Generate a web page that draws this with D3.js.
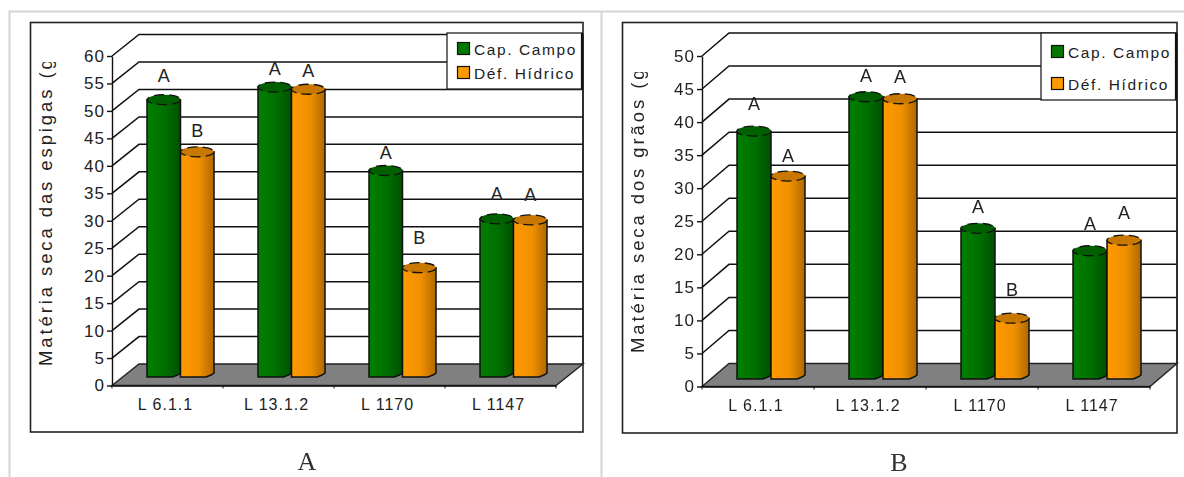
<!DOCTYPE html>
<html>
<head>
<meta charset="utf-8">
<script src="https://cdn.jsdelivr.net/npm/d3@7"></script>
<style>
  html, body { margin: 0; padding: 0; background: #fff; overflow: hidden; }
  svg { display: block; filter: blur(0.45px); font-family: "Liberation Sans", Arial, sans-serif; }
</style>
</head>
<body>
<svg id="chart" width="1184" height="477"></svg>
<script>
/* DATA */
const categories = ["L 6.1.1", "L 13.1.2", "L 1170", "L 1147"];
const seriesNames = ["Cap. Campo", "Déf. Hídrico"];

const espigasCampo = [50.5, 52.8, 37.6, 28.8];
const espigasDeficit = [41, 52.4, 19.9, 28.6];
const espigasLetters = [["A", "B"], ["A", "A"], ["A", "B"], ["A", "A"]];
// height of each letter, in axis units (they were placed by hand in the original)
const espigasLetterLevels = [[56.4, 46.4], [57.7, 57.3], [42.4, 27], [35, 34.7]];
const espigasTicks = [0, 5, 10, 15, 20, 25, 30, 35, 40, 45, 50, 55, 60];

const graosCampo = [37.5, 42.7, 22.8, 19.4];
const graosDeficit = [30.7, 42.4, 9.2, 21];
const graosLetters = [["A", "A"], ["A", "A"], ["A", "B"], ["A", "A"]];
const graosLetterLevels = [[42.8, 35], [47.1, 46.9], [27.3, 14.7], [24.7, 26.3]];
const graosTicks = [0, 5, 10, 15, 20, 25, 30, 35, 40, 45, 50];

const colors = ["#007800", "#ff9900"];
const topColors = ["#006000", "#c87800"];

const svg = d3.select("#chart");

// bar gradients
const defs = svg.append("defs");
[["grad0", "#007f00", "#006f00", "#005000"], ["grad1", "#ff9900", "#f09000", "#b06800"]].forEach(g => {
    const lg = defs.append("linearGradient").attr("id", g[0]);
    lg.append("stop").attr("offset", "0%").attr("stop-color", g[1]);
    lg.append("stop").attr("offset", "55%").attr("stop-color", g[2]);
    lg.append("stop").attr("offset", "100%").attr("stop-color", g[3]);
});

// page lines
svg.append("path")
    .attr("d", "M9.5,477V11.5H1184M601.5,11.5V477")
    .attr("fill", "none")
    .attr("stroke", "#d4d4d4")
    .attr("stroke-width", 2);

function drawPanel(cfg) {

    const g = svg.append("g");

    // frame
    g.append("rect")
        .attr("x", cfg.frame[0]).attr("y", cfg.frame[1])
        .attr("width", cfg.frame[2] - cfg.frame[0]).attr("height", cfg.frame[3] - cfg.frame[1])
        .attr("fill", "#fff").attr("stroke", "#222").attr("stroke-width", 1.6);

    /* SCALES */
    const yScale = d3.scaleLinear()
        .domain(d3.extent(cfg.ticks))
        .range([cfg.y0, cfg.yTop]);

    const xScale = d3.scaleBand()
        .domain(categories)
        .range([cfg.x0, cfg.x1]);

    const barScale = d3.scaleBand()
        .domain(seriesNames)
        .range([0, cfg.barW * 2]);

    // floor
    g.append("path")
        .attr("d", `M${cfg.x0},${cfg.y0}L${cfg.x0 + cfg.dx},${cfg.y0 - cfg.dy}H${cfg.x1 + cfg.dx}L${cfg.x1},${cfg.y0}Z`)
        .attr("fill", "#808080").attr("stroke", "#222").attr("stroke-width", 1.4);

    // back wall grid + slanted side lines
    cfg.ticks.forEach(t => {
        const y = yScale(t);
        if (t > 0) {
            g.append("path")
                .attr("d", `M${cfg.x0},${y}L${cfg.x0 + cfg.dx},${y - cfg.dy}H${cfg.x1 + cfg.dx}`)
                .attr("fill", "none").attr("stroke", "#111").attr("stroke-width", 1.5);
        }
    });

    // right edge of the wall
    g.append("line")
        .attr("x1", cfg.x1 + cfg.dx).attr("x2", cfg.x1 + cfg.dx)
        .attr("y1", yScale.range()[1] - cfg.dy).attr("y2", cfg.y0 - cfg.dy)
        .attr("stroke", "#222").attr("stroke-width", 1.4);

    /* AXES */
    const yAxis = g.append("g")
        .attr("transform", `translate(${cfg.x0},0)`)
        .call(d3.axisLeft(yScale).tickValues(cfg.ticks).tickSize(5).tickPadding(2).tickSizeOuter(0));
    yAxis.selectAll("text").attr("font-size", 17).attr("font-family", "Liberation Sans")
        .attr("fill", "#222").attr("letter-spacing", 1);
    yAxis.selectAll("line, path").attr("stroke", "#111").attr("stroke-width", 1.4);

    const xAxis = g.append("g")
        .attr("transform", `translate(0,${cfg.y0})`)
        .call(d3.axisBottom(xScale).tickSize(0).tickPadding(13));
    xAxis.select("path").attr("stroke", "#111").attr("stroke-width", 1.6);
    xAxis.selectAll("text").attr("font-size", 16).attr("font-family", "Liberation Sans")
        .attr("fill", "#222").attr("dx", -2).attr("letter-spacing", 1);
    categories.concat("end").forEach((c, i) => {
        const x = cfg.x0 + i * xScale.step();
        g.append("line").attr("x1", x).attr("x2", x)
            .attr("y1", cfg.y0).attr("y2", cfg.y0 + 3)
            .attr("stroke", "#111");
    });

    // y title, cut off at the top as in the original
    const clipId = "clip" + cfg.id;
    defs.append("clipPath").attr("id", clipId).append("rect")
        .attr("x", cfg.frame[0]).attr("y", cfg.titleClip)
        .attr("width", 60).attr("height", 380);
    g.append("g").attr("clip-path", `url(#${clipId})`)
        .append("text")
        .attr("transform", `translate(${cfg.titleX},${cfg.titleY}) rotate(-90)`)
        .attr("font-size", 18.5).attr("fill", "#222").attr("letter-spacing", 2.9)
        .text(cfg.title);

    /* BARS */
    const ry = 5;
    const rows = categories.flatMap((c, i) => cfg.series.map((s, k) => ({
        cat: c, k: k, value: s[i], letter: cfg.letters[i][k], level: cfg.levels[i][k]
    })));
    const barX = d => xScale(d.cat) + xScale.bandwidth() / 2 + cfg.depth - cfg.barW + barScale(seriesNames[d.k]);
    const offY = cfg.offY;

    const bars = g.selectAll("g.bar")
        .data(rows)
        .join("g")
        .attr("class", "bar");

    bars.append("path")
        .attr("d", d => {
            const x = barX(d), w = cfg.barW, yt = yScale(d.value) - offY, yb = cfg.y0 - offY;
            return `M${x},${yt}V${yb}H${x + w - 8}L${x + w - 3},${yb - 2}L${x + w},${yb - 4}V${yt}Z`;
        })
        .attr("fill", d => `url(#grad${d.k})`)
        .attr("stroke", "#111").attr("stroke-width", 1.5);

    bars.append("ellipse")
        .attr("cx", d => barX(d) + cfg.barW / 2)
        .attr("cy", d => yScale(d.value) - offY)
        .attr("rx", cfg.barW / 2)
        .attr("ry", ry)
        .attr("fill", d => topColors[d.k])
        .attr("stroke", "#111").attr("stroke-width", 1.3)
        .attr("stroke-dasharray", "10 5");

    /* LETTERS */
    g.selectAll("text.letter")
        .data(rows)
        .join("text")
        .attr("class", "letter")
        .attr("x", d => barX(d) + cfg.barW / 2)
        .attr("y", d => yScale(d.level))
        .attr("dy", "0.36em")
        .attr("text-anchor", "middle")
        .attr("font-size", 18)
        .attr("fill", "#222")
        .text(d => d.letter);

    /* LEGEND */
    const lg = g.append("g").attr("transform", `translate(${cfg.legend[0]},${cfg.legend[1]})`);
    lg.append("rect")
        .attr("width", 135).attr("height", cfg.legend[2])
        .attr("fill", "#fff").attr("stroke", "#222").attr("stroke-width", 1.3);
    lg.append("path").attr("d", `M135,0V${cfg.legend[2]}`).attr("stroke", "#111").attr("stroke-width", 2.2);
    seriesNames.forEach((s, i) => {
        lg.append("rect")
            .attr("x", 10.5).attr("y", cfg.legend[4] + i * cfg.legend[3])
            .attr("width", 12).attr("height", 12)
            .attr("fill", colors[i]).attr("stroke", "#111").attr("stroke-width", 1.2);
        lg.append("text")
            .attr("x", 27).attr("y", cfg.legend[4] + 12 + i * cfg.legend[3])
            .attr("font-size", 15.5).attr("letter-spacing", 1.6).attr("fill", "#222")
            .text(s);
    });

    // caption
    g.append("text")
        .attr("x", cfg.caption[0]).attr("y", cfg.caption[1])
        .attr("text-anchor", "middle")
        .attr("font-family", "Liberation Serif").attr("font-size", 26).attr("fill", "#333")
        .text(cfg.captionText);
}

drawPanel({
    id: "A", frame: [30.5, 22.5, 583, 432],
    x0: 112, x1: 556, dx: 27, dy: 21.5, y0: 385.5, yTop: 56, offY: 8.5, depth: 13, barW: 33.5,
    ticks: espigasTicks, series: [espigasCampo, espigasDeficit],
    letters: espigasLetters, levels: espigasLetterLevels,
    title: "Matéria seca das espigas (g", titleX: 52, titleY: 366, titleClip: 62,
    legend: [447, 33, 56, 24, 9.5], caption: [307, 470], captionText: "A"
});

drawPanel({
    id: "B", frame: [622.5, 22.5, 1177, 433],
    x0: 702, x1: 1150, dx: 27, dy: 23, y0: 386.5, yTop: 56, offY: 7.5, depth: 13, barW: 34,
    ticks: graosTicks, series: [graosCampo, graosDeficit],
    letters: graosLetters, levels: graosLetterLevels,
    title: "Matéria seca dos grãos (g", titleX: 644, titleY: 353, titleClip: 72,
    legend: [1041, 33, 67, 32, 12.5], caption: [899, 471], captionText: "B"
});
</script>
</body>
</html>
